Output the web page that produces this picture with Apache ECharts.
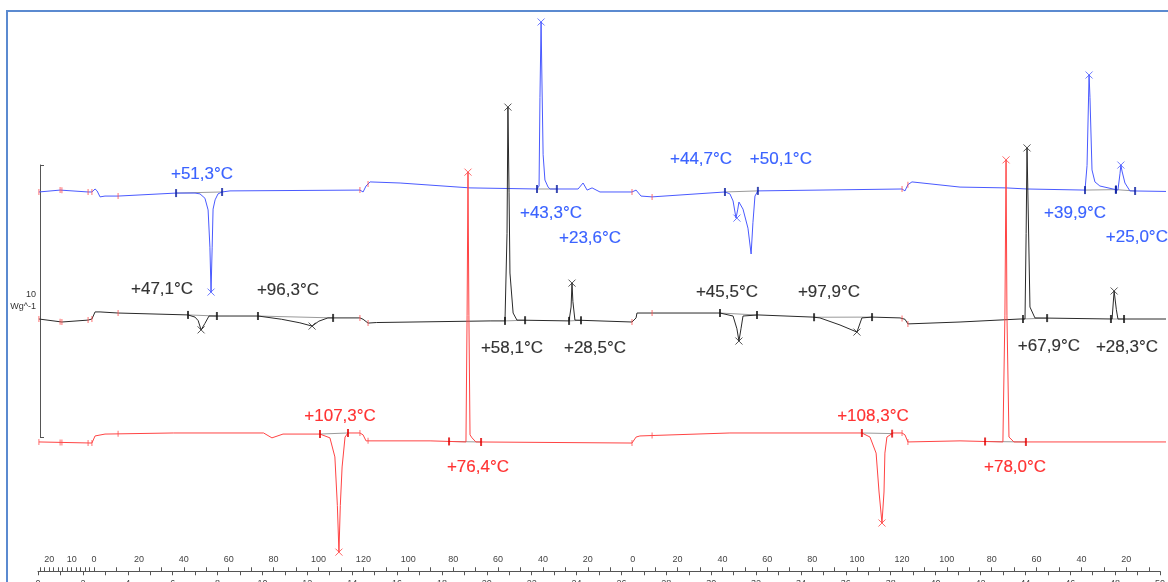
<!DOCTYPE html>
<html><head><meta charset="utf-8">
<script src="https://cdn.jsdelivr.net/npm/echarts@6/dist/echarts.min.js"></script>
<style>html,body{margin:0;padding:0;background:#fff}#c{width:1168px;height:582px}</style>
</head><body><div id="c"></div><script>
// ---- DATA (time in min, heat flow in W/g incl. stacking offsets) ----
const blueTrace = [[0.04,13.53],[0.98,13.60],[2.22,13.53],[2.39,13.53],[2.53,13.64],[2.62,13.57],[2.75,13.35],[2.97,13.38],[3.55,13.38],[6.12,13.49],[6.96,13.49],[7.18,13.46],[7.40,13.30],[7.54,12.87],[7.62,11.5],[7.67,9.85],[7.72,11.5],[7.76,12.9],[7.85,13.24],[7.98,13.46],[8.16,13.53],[8.51,13.57],[14.27,13.60],[14.41,13.53],[14.54,13.75],[14.72,13.90],[16.05,13.86],[19.15,13.68],[22.12,13.64],[22.21,13.75],[22.25,17.0],[22.30,19.78],[22.34,17.5],[22.39,14.9],[22.47,13.97],[22.61,13.71],[22.70,13.64],[23.94,13.64],[24.16,13.86],[24.34,13.60],[24.56,13.68],[24.91,13.53],[26.33,13.53],[26.51,13.60],[26.73,13.38],[27.22,13.35],[30.45,13.53],[30.67,13.46],[30.81,13.2],[30.94,12.57],[31.02,12.9],[31.07,13.16],[31.25,12.9],[31.47,12.2],[31.61,11.25],[31.69,12.4],[31.78,13.38],[31.91,13.57],[38.30,13.64],[38.43,13.57],[38.56,13.80],[38.74,13.90],[40.87,13.71],[42.91,13.68],[43.84,13.64],[46.41,13.60],[46.50,14.5],[46.59,17.83],[46.63,17.0],[46.72,14.34],[46.85,13.9],[47.07,13.75],[47.65,13.64],[47.87,13.60],[47.96,14.2],[48.00,14.52],[48.05,14.3],[48.18,13.86],[48.40,13.57],[50.00,13.55]];
const blackTrace = [[0.04,8.86],[1.06,8.75],[2.22,8.82],[2.39,8.86],[2.53,9.12],[2.75,9.12],[3.55,9.08],[6.65,9.01],[6.96,8.93],[7.10,8.80],[7.23,8.46],[7.40,8.70],[7.58,8.97],[7.85,8.97],[8.51,8.97],[9.75,8.97],[9.93,8.95],[10.8,8.85],[11.61,8.72],[12.15,8.60],[12.45,8.78],[12.85,8.90],[14.27,8.90],[14.41,8.85],[14.63,8.71],[15.0,8.73],[20.04,8.79],[20.70,8.79],[20.79,12.0],[20.83,16.65],[20.88,13.5],[20.92,10.55],[21.06,9.08],[21.23,8.82],[23.54,8.79],[23.63,9.3],[23.67,10.18],[23.71,9.5],[23.80,8.82],[26.33,8.75],[26.51,8.9],[26.55,9.08],[27.22,9.08],[30.23,9.08],[30.81,8.97],[30.98,8.5],[31.07,8.05],[31.16,8.5],[31.25,8.97],[31.91,9.01],[34.35,8.93],[34.66,8.90],[35.55,8.64],[36.30,8.38],[36.52,8.90],[36.97,8.93],[38.21,8.90],[38.43,8.85],[38.56,8.68],[40.87,8.75],[43.53,8.86],[43.75,8.86],[43.80,12.0],[43.84,15.15],[43.90,12.5],[43.97,9.30],[44.19,8.90],[47.61,8.86],[47.70,9.89],[47.80,9.2],[47.87,8.86],[50.00,8.86]];
const redTrace = [[0.04,4.34],[2.39,4.30],[2.53,4.56],[2.97,4.63],[6.0,4.67],[10.0,4.67],[10.37,4.49],[10.86,4.63],[12.50,4.63],[12.94,4.49],[13.16,3.79],[13.27,2.0],[13.34,0.29],[13.40,2.0],[13.48,3.42],[13.61,4.52],[13.74,4.67],[14.27,4.67],[14.41,4.60],[14.54,4.38],[17.38,4.38],[18.97,4.34],[19.02,9.0],[19.06,14.26],[19.10,9.0],[19.15,4.6],[19.24,4.49],[19.41,4.34],[26.33,4.30],[26.51,4.52],[26.68,4.56],[27.35,4.58],[30.67,4.67],[36.52,4.67],[36.88,4.52],[37.15,3.93],[37.28,2.5],[37.41,1.36],[37.50,2.5],[37.54,3.93],[37.63,4.52],[37.90,4.67],[38.30,4.67],[38.43,4.60],[38.56,4.34],[40.87,4.38],[42.77,4.34],[42.86,9.0],[42.91,14.71],[42.95,9.0],[43.04,4.52],[43.26,4.34],[50.00,4.34]];

// peak maxima (x markers)
const bluePeaks = [[7.67,9.85],[22.30,19.78],[30.98,12.57],[46.59,17.83],[48.00,14.52]];
const blackPeaks = [[7.23,8.46],[12.15,8.60],[20.83,16.65],[23.67,10.18],[31.07,8.05],[36.30,8.38],[43.84,15.15],[47.70,9.89]];
const redPeaks = [[13.34,0.29],[19.06,14.26],[37.41,1.36],[42.91,14.71]];

// integration limits (start, end) in min
const blueLimits = [[6.12,8.16],[22.12,23.0],[30.45,31.91],[46.41,47.78],[47.78,48.63]];
const blackLimits = [[6.65,7.93],[9.75,13.08],[20.70,21.59],[23.54,24.07],[30.23,31.87],[34.40,36.97],[43.66,44.73],[47.56,48.14]];
const redLimits = [[12.50,13.74],[18.22,19.64],[36.52,37.86],[41.98,43.79]];

// segment boundaries of the method (min)
const segmentMarks = [0.04,0.98,1.06,2.22,2.39,3.55,14.27,14.63,26.33,27.22,38.30,38.56];

// annotations: text, time, W/g
const blueLabels = [['+51,3°C',7.27,14.19],['+43,3°C',22.74,12.76],['+23,6°C',24.47,11.84],['+44,7°C',29.39,14.74],['+50,1°C',32.93,14.74],['+39,9°C',45.97,12.76],['+25,0°C',48.71,11.88]];
const blackLabels = [['+47,1°C',5.50,9.96],['+96,3°C',11.08,9.93],['+58,1°C',21.01,7.79],['+28,5°C',24.69,7.79],['+45,5°C',30.54,9.85],['+97,9°C',35.06,9.85],['+67,9°C',44.81,7.87],['+28,3°C',48.27,7.83]];
const redLabels = [['+107,3°C',13.39,5.29],['+76,4°C',19.50,3.42],['+108,3°C',37.01,5.29],['+78,0°C',43.31,3.42]];

// temperature scale (°C) over time (min)
const tempLabelTimes = [0.5,1.5,2.5,4.5,6.5,8.5,10.5,12.5,14.5,16.5,18.5,20.5,22.5,24.5,26.5,28.5,30.5,32.5,34.5,36.5,38.5,40.5,42.5,44.5,46.5,48.5];
const tempLabelTexts = ['20','10','0','20','40','60','80','100','120','100','80','60','40','20','0','20','40','60','80','100','120','100','80','60','40','20'];
const scaleBar = [0, 10]; // W/g

// ---- helpers ----
function interp(trace, t){
  for (let i=1;i<trace.length;i++){
    const a=trace[i-1], b=trace[i];
    if (t>=a[0] && t<=b[0]){ const f=(t-a[0])/((b[0]-a[0])||1); return a[1]+f*(b[1]-a[1]); }
  }
  return trace[trace.length-1][1];
}
const tempTickTimes = [];
for (let t=0.1; t<2.45; t+=0.2) tempTickTimes.push(+t.toFixed(2));
for (let t=2.5; t<50; t+=1) tempTickTimes.push(t);

const FONT = '"Liberation Sans", Arial, sans-serif';
const traces = [
  {trace: blueTrace, line:'#4a5aff', mark:'#0a1ea0', text:'#0a3cff', peaks: bluePeaks, limits: blueLimits, labels: blueLabels},
  {trace: blackTrace, line:'#2a2a2a', mark:'#111111', text:'#000000', peaks: blackPeaks, limits: blackLimits, labels: blackLabels},
  {trace: redTrace, line:'#ff4444', mark:'#e00000', text:'#ff0000', peaks: redPeaks, limits: redLimits, labels: redLabels}
];

const series = [];
traces.forEach(tr => {
  series.push({type:'line', data: tr.trace, showSymbol:false, symbol:'none', lineStyle:{color:tr.line, width:1}, z:3, animation:false, xAxisIndex:0, yAxisIndex:0});
  tr.limits.forEach(p => {
    series.push({type:'line', data: p.map(t=>[t, interp(tr.trace,t)]), showSymbol:false, symbol:'none', lineStyle:{color:'#9a9a9a', width:1}, z:2, animation:false, silent:true});
  });
  series.push({type:'scatter', data: tr.peaks, symbol:'path://M0,0L10,10M10,0L0,10', symbolSize:7, itemStyle:{color:'none', borderColor:tr.line, borderWidth:1}, z:4, animation:false});
  const lim = [];
  tr.limits.forEach(p => p.forEach(t => lim.push([t, interp(tr.trace,t)])));
  series.push({type:'scatter', data: lim, symbol:'rect', symbolSize:[2,8], itemStyle:{color:tr.mark}, z:5, animation:false});
  series.push({type:'scatter', data: segmentMarks.map(t=>[t, interp(tr.trace,t)]), symbol:'rect', symbolSize:[1,6], itemStyle:{color:'#ff4d4d'}, z:5, animation:false});
  series.push({type:'scatter', data: tr.labels.map(l=>({value:[l[1],l[2]], name:l[0]})), symbolSize:1, itemStyle:{color:'rgba(0,0,0,0)'}, z:6, animation:false,
    label:{show:true, position:'inside', formatter: p=>p.name, color:tr.text, fontSize:17, fontFamily:FONT,
      textBorderColor:tr.text, textBorderWidth:0.15}});
});

const chart = echarts.init(document.getElementById('c'), null, {renderer:'canvas'});
chart.setOption({
  animation:false,
  backgroundColor:'#ffffff',
  grid:[
    {left:38, right:2, top:16, height:544},
    {left:38, right:2, bottom:10, height:1},
    {left:40, top:165, height:272, width:1}
  ],
  xAxis:[
    {type:'value', gridIndex:0, min:0, max:50, show:false},
    {type:'value', gridIndex:1, min:0, max:50, interval:2, position:'bottom',
      axisLine:{show:true, lineStyle:{color:'#555', width:1}},
      axisTick:{show:true, length:4, lineStyle:{color:'#555'}},
      minorTick:{show:true, splitNumber:2, length:4, lineStyle:{color:'#555'}},
      splitLine:{show:false},
      axisLabel:{show:true, fontSize:9, color:'#444', margin:8, fontFamily:FONT}},
    {type:'value', gridIndex:1, min:0, max:50, position:'bottom',
      axisLine:{show:false},
      axisTick:{show:true, inside:true, length:4, customValues: tempTickTimes, lineStyle:{color:'#555'}},
      splitLine:{show:false},
      axisLabel:{show:true, inside:true, margin:7, fontSize:9, color:'#444', fontFamily:FONT,
        customValues: tempLabelTimes,
        formatter: v => { const i = tempLabelTimes.findIndex(t=>Math.abs(t-v)<1e-6); return i>=0 ? tempLabelTexts[i] : ''; }}},
    {type:'value', gridIndex:2, min:0, max:1, show:false}
  ],
  yAxis:[
    {type:'value', gridIndex:0, min:0, max:20, show:false},
    {type:'value', gridIndex:1, min:0, max:1, show:false},
    {type:'value', gridIndex:2, min:scaleBar[0], max:scaleBar[1], interval:scaleBar[1]-scaleBar[0], position:'left',
      axisLine:{show:true, lineStyle:{color:'#555', width:1}},
      axisTick:{show:true, inside:true, length:4, lineStyle:{color:'#555'}},
      axisLabel:{show:false}, splitLine:{show:false},
      name: '10\nWg^-1', nameLocation:'middle', nameRotate:0, nameGap:4,
      nameTextStyle:{fontSize:9, color:'#333', align:'right', lineHeight:12, fontFamily:FONT}}
  ],
  graphic:[
    {type:'polyline', shape:{points:[[7,582],[7,11],[1168,11]]}, style:{stroke:'#5b8ad0', lineWidth:2, fill:null}, silent:true}
  ],
  series: series
});
</script></body></html>
